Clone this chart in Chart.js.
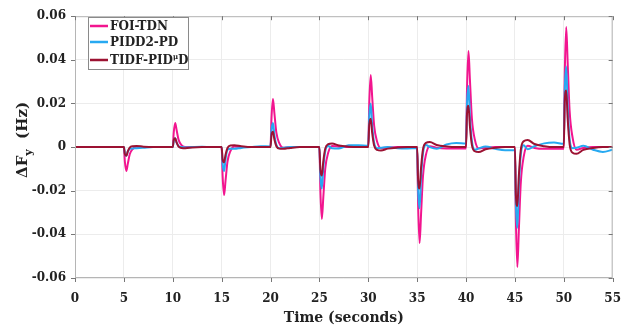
<!DOCTYPE html>
<html>
<head>
<meta charset="utf-8">
<script src="https://cdn.jsdelivr.net/npm/chart.js@4.4.1/dist/chart.umd.min.js"></script>
<style>
  body { margin: 0; background: #fff; }
  #wrap { width: 630px; height: 327px; }
</style>
</head>
<body>
<div id="wrap"><canvas id="myChart" width="630" height="327"></canvas></div>
<script>
// time in seconds, shared by all three series
const time = [
  0,
  5, 5.1, 5.25, 5.4, 5.6, 5.9, 6.3, 7, 8, 9,
  10, 10.1, 10.25, 10.4, 10.6, 10.9, 11.3, 12, 13, 14,
  15, 15.1, 15.25, 15.4, 15.6, 15.9, 16.3, 17, 18, 19,
  20, 20.1, 20.25, 20.4, 20.6, 20.9, 21.3, 22, 23, 24,
  25, 25.1, 25.25, 25.4, 25.6, 25.9, 26.3, 27, 28, 29,
  30, 30.1, 30.25, 30.4, 30.6, 30.9, 31.3, 32, 33, 34,
  35, 35.1, 35.25, 35.4, 35.6, 35.9, 36.3, 37, 38, 39,
  40, 40.1, 40.25, 40.4, 40.6, 40.9, 41.3, 42, 43, 44,
  45, 45.1, 45.25, 45.4, 45.6, 45.9, 46.3, 47, 48, 49,
  50, 50.1, 50.25, 50.4, 50.6, 50.9, 51.3, 52, 53, 54,
  55
];

const foiTdn = [
  0,
  0, -0.0066, -0.011, -0.0077, -0.0033, -0.0009, 0, 0, 0, 0,
  0, 0.0066, 0.011, 0.0077, 0.0033, 0.0009, 0, 0, 0, 0,
  0, -0.0132, -0.022, -0.0154, -0.0066, -0.0018, 0.0003, 0, 0, 0,
  0, 0.0132, 0.022, 0.0154, 0.0066, 0.0018, -0.0003, 0, 0, 0,
  0, -0.0198, -0.033, -0.0231, -0.0099, -0.0026, 0.0005, 0.0002, 0, 0,
  0, 0.0198, 0.033, 0.0231, 0.0099, 0.0026, -0.0005, -0.0002, 0, 0,
  0, -0.0264, -0.044, -0.0308, -0.0132, -0.0035, 0.0004, -0.0003, -0.0006, -0.0006,
  -0.0006, 0.0264, 0.044, 0.0308, 0.0132, 0.0035, -0.0006, -0.0003, 0, 0,
  0, -0.033, -0.055, -0.0385, -0.0165, -0.0044, 0.0006, -0.0004, -0.0008, -0.0008,
  -0.0008, 0.033, 0.055, 0.0385, 0.0165, 0.0044, -0.0012, -0.0004, 0, 0,
  0
];

const pidd2Pd = [
  0,
  0, -0.0028, -0.004, -0.002, -0.0008, -0.0006, -0.0005, -0.0003, 0, 0,
  0, 0.0028, 0.004, 0.002, 0.0004, 0, -0.0002, 0, 0.0002, 0,
  0, -0.0077, -0.011, -0.0055, -0.0012, -0.0008, -0.0008, -0.0004, 0, 0.0004,
  0.0003, 0.0077, 0.011, 0.0055, 0.0011, -0.0005, -0.0003, 0, 0, 0,
  0, -0.0133, -0.019, -0.0095, -0.0019, 0.0005, -0.0005, -0.0006, 0.0008, 0.0009,
  0.0006, 0.014, 0.02, 0.01, 0.002, -0.0005, -0.0003, 0, -0.0005, -0.0006,
  -0.0005, -0.0196, -0.028, -0.014, -0.0028, 0.001, 0, -0.0008, 0.0012, 0.0019,
  0.0016, 0.0196, 0.028, 0.014, 0.0028, -0.0012, -0.0006, 0.0003, -0.0008, -0.0015,
  -0.0015, -0.0259, -0.037, -0.0185, -0.0037, 0.0008, -0.001, 0.0004, 0.0017, 0.0021,
  0.0015, 0.0259, 0.037, 0.0185, 0.0037, -0.0005, -0.0003, 0.0006, -0.0012, -0.0022,
  -0.0012
];

const tidfPid = [
  0,
  0, -0.0032, -0.004, -0.002, -0.0002, 0.0004, 0.0005, 0.0002, 0, 0,
  0, 0.0032, 0.004, 0.002, 0.0002, -0.0004, -0.0005, -0.0002, 0, 0,
  0, -0.0056, -0.007, -0.0035, -0.0004, 0.0007, 0.0008, 0.0004, 0, 0,
  0, 0.0056, 0.007, 0.0035, 0.0004, -0.0007, -0.0008, -0.0004, 0, 0,
  0, -0.0104, -0.013, -0.0065, -0.0007, 0.0013, 0.0016, 0.0007, 0.0002, 0,
  0, 0.0104, 0.013, 0.0065, 0.0007, -0.0013, -0.0016, -0.0007, -0.0002, 0,
  0, -0.0152, -0.019, -0.0095, -0.001, 0.0019, 0.0023, 0.001, 0.0003, 0,
  0, 0.0152, 0.019, 0.0095, 0.001, -0.0019, -0.0023, -0.001, -0.0003, 0,
  0, -0.0216, -0.027, -0.0135, -0.0014, 0.0027, 0.0033, 0.0014, 0.0004, 0,
  0, 0.0208, 0.026, 0.013, 0.0013, -0.0026, -0.0031, -0.0013, -0.0004, 0,
  0
];

const seriesNames = ["FOI-TDN", "PIDD2-PD", "TIDF-PID"];
const seriesColors = ["#f2158f", "#27a9f1", "#9c1232"];
const xTitle = "Time (seconds)";

const serif = "'DejaVu Serif', serif";

function toPoints(values) {
  return time.map((t, i) => ({ x: t, y: values[i] }));
}

// box, ticks, y title with subscript, legend with superscript
const decorPlugin = {
  id: "decor",
  afterDraw(chart) {
    const c = chart.ctx;
    const a = chart.chartArea;
    const xs = chart.scales.x, ys = chart.scales.y;
    c.save();
    c.strokeStyle = "#b5b5b5";
    c.lineWidth = 1;
    c.strokeRect(a.left + 0.5, a.top + 0.5, a.right - a.left - 1, a.bottom - a.top - 1);
    c.strokeStyle = "#777";
    c.beginPath();
    xs.ticks.forEach((t) => {
      let px = Math.round(xs.getPixelForValue(t.value)) + 0.5;
      c.moveTo(px, a.bottom); c.lineTo(px, a.bottom + 4);
      c.moveTo(px, a.top); c.lineTo(px, a.top + 4);
    });
    ys.ticks.forEach((t) => {
      let py = Math.round(ys.getPixelForValue(t.value)) + 0.5;
      c.moveTo(a.left, py); c.lineTo(a.left - 4, py);
      c.moveTo(a.right, py); c.lineTo(a.right - 4, py);
    });
    c.stroke();

    // y axis title
    c.fillStyle = "#222";
    c.translate(22, 140);
    c.rotate(-Math.PI / 2);
    c.textBaseline = "alphabetic";
    c.font = "bold 15px " + serif;
    let w1 = c.measureText("ΔF").width;
    c.font = "bold 11px " + serif;
    let w2 = c.measureText("y").width;
    c.font = "bold 15px " + serif;
    let w3 = c.measureText("  (Hz)").width;
    let x0 = -(w1 + w2 + w3) / 2;
    c.fillText("ΔF", x0, 5);
    c.font = "bold 11px " + serif;
    c.fillText("y", x0 + w1, 10);
    c.font = "bold 15px " + serif;
    c.fillText("  (Hz)", x0 + w1 + w2, 5);
    c.restore();

    // legend
    c.save();
    c.fillStyle = "#fff";
    c.fillRect(88, 17, 100, 52);
    c.strokeStyle = "#8a8a8a";
    c.lineWidth = 1;
    c.strokeRect(88.5, 17.5, 100, 52);
    const rows = [26, 42, 60];
    seriesNames.forEach((name, i) => {
      c.strokeStyle = seriesColors[i];
      c.lineWidth = 2.5;
      c.beginPath();
      c.moveTo(90, rows[i]); c.lineTo(108, rows[i]);
      c.stroke();
      c.fillStyle = "#222";
      c.textBaseline = "middle";
      c.font = "bold 12px " + serif;
      c.fillText(name, 110, rows[i] + 1);
      if (i === 2) {
        let w = c.measureText(name).width;
        c.font = "bold 7px " + serif;
        c.fillText("μ", 110 + w, rows[i] - 3);
        let wm = c.measureText("μ").width;
        c.font = "bold 12px " + serif;
        c.fillText("D", 110 + w + wm, rows[i] + 1);
      }
    });
    c.restore();
  }
};

const datasets = [foiTdn, pidd2Pd, tidfPid].map((vals, i) => ({
  label: seriesNames[i],
  data: toPoints(vals),
  borderColor: seriesColors[i],
  backgroundColor: seriesColors[i],
  borderWidth: 2,
  pointRadius: 0,
  cubicInterpolationMode: "monotone",
  order: 3 - i
}));

new Chart(document.getElementById("myChart"), {
  type: "line",
  data: { datasets: datasets },
  options: {
    responsive: false,
    animation: false,
    layout: { padding: { top: 14, right: 17, left: 0, bottom: 0 } },
    plugins: { legend: { display: false }, tooltip: { enabled: false } },
    scales: {
      x: {
        type: "linear",
        min: 0,
        max: 55,
        ticks: { stepSize: 5, color: "#222", font: { family: serif, weight: "bold", size: 12, lineHeight: 2 }, padding: 9, maxRotation: 0 },
        grid: { color: "#ececec", drawTicks: false },
        border: { display: false },
        title: { display: true, text: xTitle, color: "#222", font: { family: serif, weight: "bold", size: 14 }, padding: { top: 0, bottom: 0 } },
        afterFit(scale) { scale.height = 49; }
      },
      y: {
        min: -0.06,
        max: 0.06,
        ticks: {
          stepSize: 0.02,
          color: "#222",
          font: { family: serif, weight: "bold", size: 12 },
          padding: 9,
          callback: (v) => (Math.abs(v) < 1e-9 ? "0" : v.toFixed(2))
        },
        grid: { color: "#ececec", drawTicks: false },
        border: { display: false },
        afterFit(scale) { scale.width = 75; }
      }
    }
  },
  plugins: [decorPlugin]
});
</script>
</body>
</html>
